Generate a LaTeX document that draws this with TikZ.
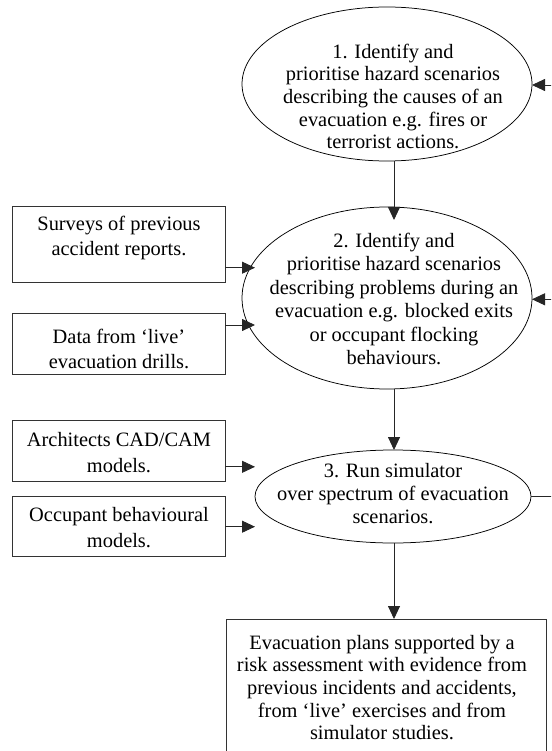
\documentclass[tikz,border=0pt]{standalone}
\usepackage{fontspec}
\setmainfont{Liberation Serif}
\usetikzlibrary{shapes.geometric,arrows.meta,calc}
\begin{document}
\begin{tikzpicture}[x=1pt,y=-1pt,
  ell/.style={draw=black, line width=0.75pt, ellipse, inner sep=0pt, outer sep=0pt},
  box/.style={draw=black!80, line width=0.85pt, rectangle, inner sep=0pt, outer sep=0pt, minimum width=212.6pt},
  txt/.style={align=center, font=\fontsize{20.4}{22.6}\selectfont, inner sep=0pt},
  arr/.style={draw=black!85, line width=0.85pt, -{Triangle[length=13pt,width=12pt]}},
  ln/.style={draw=black!85, line width=0.85pt}]
\useasboundingbox (0,0) rectangle (551,751);
\clip (0,0) rectangle (551,751);

% ellipses
\node[ell, minimum width=290pt, minimum height=154pt] (e1) at (387,84) {};
\node[txt] (t1) at (393,96.5) {1. Identify and\\prioritise hazard scenarios\\describing the causes of an\\evacuation e.g. fires or\\terrorist actions.};

\node[ell, minimum width=290pt, minimum height=182pt] (e2) at (387,298) {};
\node[txt, font=\fontsize{20.4}{23.4}\selectfont] (t2) at (394,299) {2. Identify and\\prioritise hazard scenarios\\describing problems during an\\evacuation e.g. blocked exits\\or occupant flocking\\behaviours.};

\node[ell, minimum width=276pt, minimum height=93pt] (e3) at (393,496.5) {};
\node[txt, font=\fontsize{20.4}{23.3}\selectfont] (t3) at (393,493.5) {3. Run simulator\\over spectrum of evacuation\\scenarios.};

% input boxes
\node[box, minimum height=76pt] (sv) at (119,244.7) {};
\node[txt, font=\fontsize{20.4}{25}\selectfont] (tsv) at (119,238) {Surveys of previous\\accident reports.};

\node[box, minimum height=60.7pt] (dt) at (119,343.7) {};
\node[txt, font=\fontsize{20.4}{25}\selectfont] (tdt) at (119,349) {Data from `live'\\evacuation drills.};

\node[box, minimum height=60.3pt] (ar) at (119,450.8) {};
\node[txt, font=\fontsize{20.4}{26}\selectfont] (tar) at (119,453) {Architects CAD/CAM\\models.};

\node[box, minimum height=60pt] (oc) at (119,526.7) {};
\node[txt, font=\fontsize{20.4}{26}\selectfont] (toc) at (119,528) {Occupant behavioural\\models.};

% final box (cut off at the bottom)
\node[box, minimum width=320pt, minimum height=150pt] (fb) at (386,694) {};
\node[txt] (tfb) at (382,687.5) {Evacuation plans supported by a\\risk assessment with evidence from\\previous incidents and accidents,\\from `live' exercises and from\\simulator studies.};

% vertical flow
\draw[arr] ([xshift=7pt]e1.south) -- ([xshift=7pt,yshift=-13pt]e2.north);
\draw[arr] ([xshift=7pt]e2.south) -- ([xshift=7pt]e2.south |- e3.north);
\draw[arr] ([xshift=1pt]e3.south) -- ([xshift=1pt]e3.south |- fb.north);

% inputs from the left
\draw[arr] ([yshift=-23pt]sv.east) -- ([yshift=-23pt]sv.east -| e3.west);
\draw[arr] ([yshift=18.7pt]dt.east) -- ([yshift=18.7pt]dt.east -| e3.west);
\draw[arr] ([yshift=-16pt]ar.east) -- ([yshift=-16pt]ar.east -| e3.west);
\draw[arr] (oc.east) -- (oc.east -| e3.west);

% feedback from the right (cut off)
\coordinate (r1) at (565,85);
\coordinate (r2) at (565,299.3);
\coordinate (r3) at (565,496.5);
\draw[arr] (r1) -- (r1 -| e1.east);
\draw[arr] (r2) -- (r2 -| e2.east);
\draw[ln] (e3.east) -- (r3);
\end{tikzpicture}
\end{document}
